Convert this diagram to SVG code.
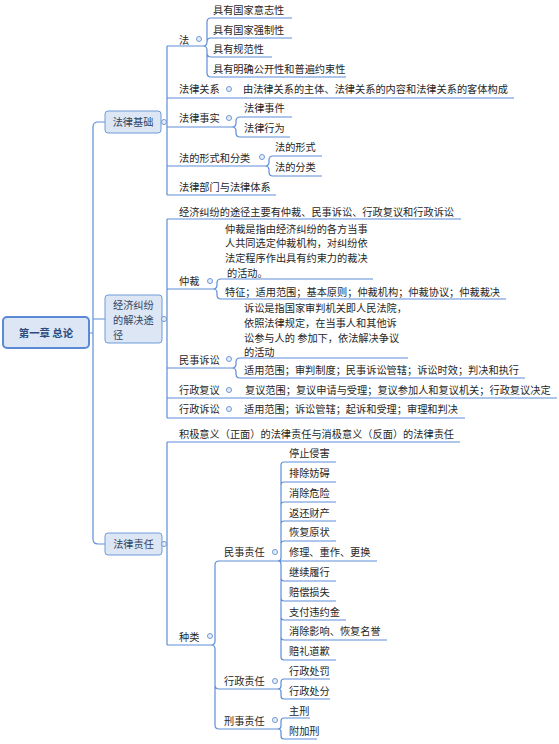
<svg xmlns="http://www.w3.org/2000/svg" width="559" height="744" viewBox="0 0 559 744">
<style>
.t{font-family:"Noto Sans CJK SC","Noto Sans",sans-serif;font-size:10.2px;fill:#262626}
.bt{font-family:"Noto Sans CJK SC","Noto Sans",sans-serif;font-size:10.2px;fill:#33445f}
.rt{font-family:"Noto Sans CJK SC","Noto Sans",sans-serif;font-size:10.4px;font-weight:bold;fill:#2b4c7e}
.ln{fill:none;stroke:#5e8ed7;stroke-width:1.2}
.dot{fill:#e8eef9;stroke:#6d98d6;stroke-width:1}
.box{fill:#dce6f4;stroke:#6f9bd8;stroke-width:1}
.root{fill:#dce6f4;stroke:#5a8ad6;stroke-width:2}
</style>
<rect width="559" height="744" fill="#ffffff"/>
<g id="connectors">
<path class="ln" d="M89 333 L93 333 M105 122 L98 122 Q93 122 93 127 L93 539 Q93 544 98 544 L105 544 M93 319 L105 319"/>
<path class="ln" d="M162 122 L167 122 M167 46 L167 195 M167 46 L203 46 M167 98 L514 98 M167 127 L232 127 M167 166 L265 166 M167 195 L276 195"/>
<path class="ln" d="M162 319 L167 319 M167 219 L167 418 M167 219 L461 219 M167 289 L213 289 M167 368 L232 368 M167 398 L557 398 M167 418 L465 418"/>
<path class="ln" d="M162 544 L167 544 M167 442 L167 645 M167 442 L460 442 M167 645 L211 645"/>
<path class="ln" d="M203 46 Q207 46 207 42 L207 22 Q207 18 211 18 L292 18 M203 46 Q207 46 207 42 Q207 38 211 38 L292 38 M203 46 Q207 46 207 50 L207 53 Q207 57 211 57 L272 57 M203 46 Q207 46 207 50 L207 73 Q207 77 211 77 L346 77"/>
<path class="ln" d="M232 127 Q236 127 236 123 L236 121 Q236 117 240 117 L292 117 M232 127 Q236 127 236 131 L236 133 Q236 137 240 137 L290 137"/>
<path class="ln" d="M265 166 Q269 166 269 162 L269 160 Q269 156 273 156 L322 156 M265 166 Q269 166 269 170 L269 172 Q269 176 273 176 L322 176"/>
<path class="ln" d="M213 289 Q217 289 217 285 L217 283 Q217 279 221 279 L373 279 M213 289 Q217 289 217 293 L217 295 Q217 299 221 299 L506 299"/>
<path class="ln" d="M232 368 Q236 368 236 364 L236 362 Q236 358 240 358 L408 358 M232 368 Q236 368 236 372 L236 374 Q236 378 240 378 L525 378"/>
<path class="ln" d="M211 645 Q215 645 215 641 L215 565 Q215 561 219 561 L278 561 M211 645 Q215 645 215 649 L215 685 Q215 689 219 689 L278 689 M211 645 Q215 645 215 649 L215 725 Q215 729 219 729 L278 729"/>
<path class="ln" d="M278 561 Q281 561 281 558 L281 465 Q281 462 284 462 L336 462 M278 561 Q281 561 281 558 L281 485 Q281 482 284 482 L336 482 M278 561 Q281 561 281 558 L281 505 Q281 502 284 502 L336 502 M278 561 Q281 561 281 558 L281 524 Q281 521 284 521 L336 521 M278 561 Q281 561 281 558 L281 544 Q281 541 284 541 L336 541 M278 561 L377 561 M278 561 Q281 561 281 564 L281 578 Q281 581 284 581 L336 581 M278 561 Q281 561 281 564 L281 598 Q281 601 284 601 L336 601 M278 561 Q281 561 281 564 L281 617 Q281 620 284 620 L346 620 M278 561 Q281 561 281 564 L281 637 Q281 640 284 640 L387 640 M278 561 Q281 561 281 564 L281 657 Q281 660 284 660 L336 660"/>
<path class="ln" d="M278 689 Q281 689 281 686 L281 682 Q281 679 284 679 L330 679 M278 689 Q281 689 281 692 L281 696 Q281 699 284 699 L330 699"/>
<path class="ln" d="M278 729 Q281 729 281 726 L281 721 Q281 718 284 718 L310 718 M278 729 Q281 729 281 732 L281 736 Q281 739 284 739 L317 739"/>
</g>
<g id="root"><rect class="root" x="3" y="317" width="86" height="31" rx="4"/><text class="rt" x="46" y="337" text-anchor="middle">第一章 总论</text></g>
<g id="n-falvjichu"><rect class="box" x="105" y="111" width="56" height="22" rx="3"/><text class="bt" x="133" y="126" text-anchor="middle">法律基础</text><circle class="dot" cx="164" cy="122" r="2.5"/></g>
<g id="n-jingji"><rect class="box" x="105" y="295" width="57" height="48" rx="3"/><text class="bt" x="113" y="309"><tspan x="113">经济纠纷</tspan><tspan x="113" y="323.8">的解决途</tspan><tspan x="113" y="338.6">径</tspan></text><circle class="dot" cx="164" cy="319" r="2.5"/></g>
<g id="n-zeren"><rect class="box" x="105" y="533" width="57" height="22" rx="3"/><text class="bt" x="133.5" y="548" text-anchor="middle">法律责任</text><circle class="dot" cx="164" cy="544" r="2.5"/></g>
<g id="n-fa"><text class="t" x="179" y="44">法</text><circle class="dot" cx="199" cy="39" r="2.5"/></g>
<g id="n-fa1"><text class="t" x="213" y="14">具有国家意志性</text></g>
<g id="n-fa2"><text class="t" x="213" y="34">具有国家强制性</text></g>
<g id="n-fa3"><text class="t" x="213" y="53">具有规范性</text></g>
<g id="n-fa4"><text class="t" x="213" y="73">具有明确公开性和普遍约束性</text></g>
<g id="n-guanxi"><text class="t" x="179" y="93">法律关系</text><circle class="dot" cx="229" cy="89" r="2.5"/></g>
<g id="n-guanxi1"><text class="t" x="243" y="93">由法律关系的主体、法律关系的内容和法律关系的客体构成</text></g>
<g id="n-shishi"><text class="t" x="179" y="122">法律事实</text><circle class="dot" cx="229" cy="118" r="2.5"/></g>
<g id="n-shishi1"><text class="t" x="244" y="112">法律事件</text></g>
<g id="n-shishi2"><text class="t" x="244" y="132">法律行为</text></g>
<g id="n-xingshi"><text class="t" x="179" y="162">法的形式和分类</text><circle class="dot" cx="262" cy="157" r="2.5"/></g>
<g id="n-xingshi1"><text class="t" x="275" y="151">法的形式</text></g>
<g id="n-xingshi2"><text class="t" x="275" y="171">法的分类</text></g>
<g id="n-bumen"><text class="t" x="179" y="191">法律部门与法律体系</text></g>
<g id="n-tujing"><text class="t" x="179" y="216">经济纠纷的途径主要有仲裁、民事诉讼、行政复议和行政诉讼</text></g>
<g id="n-zhongcai"><text class="t" x="179" y="285">仲裁</text><circle class="dot" cx="210" cy="281" r="2.5"/></g>
<g id="n-zhongcai1"><text class="t" x="225" y="232.5"><tspan x="225">仲裁是指由经济纠纷的各方当事</tspan><tspan x="225" y="247.3">人共同选定仲裁机构，对纠纷依</tspan><tspan x="225" y="262.1">法定程序作出具有约束力的裁决</tspan><tspan x="227" y="276.9">的活动。</tspan></text></g>
<g id="n-zhongcai2"><text class="t" x="225" y="296">特征；适用范围；基本原则；仲裁机构；仲裁协议；仲裁裁决</text></g>
<g id="n-minshisusong"><text class="t" x="179" y="364">民事诉讼</text><circle class="dot" cx="229" cy="359" r="2.5"/></g>
<g id="n-minshisusong1"><text class="t" x="244" y="312"><tspan x="244">诉讼是指国家审判机关即人民法院，</tspan><tspan x="244" y="326.8">依照法律规定，在当事人和其他诉</tspan><tspan x="244" y="341.6">讼参与人的 参加下，依法解决争议</tspan><tspan x="244" y="356.4">的活动</tspan></text></g>
<g id="n-minshisusong2"><text class="t" x="244" y="374">适用范围；审判制度；民事诉讼管辖；诉讼时效；判决和执行</text></g>
<g id="n-fuyi"><text class="t" x="179" y="394">行政复议</text><circle class="dot" cx="229" cy="390" r="2.5"/></g>
<g id="n-fuyi1"><text class="t" x="245" y="394">复议范围；复议申请与受理；复议参加人和复议机关；行政复议决定</text></g>
<g id="n-xingzhengsusong"><text class="t" x="179" y="413">行政诉讼</text><circle class="dot" cx="229" cy="409" r="2.5"/></g>
<g id="n-xingzhengsusong1"><text class="t" x="244" y="413">适用范围；诉讼管辖；起诉和受理；审理和判决</text></g>
<g id="n-jiji"><text class="t" x="179" y="438">积极意义（正面）的法律责任与消极意义（反面）的法律责任</text></g>
<g id="n-zhonglei"><text class="t" x="179" y="641">种类</text><circle class="dot" cx="210" cy="636" r="2.5"/></g>
<g id="n-minshi"><text class="t" x="224" y="556">民事责任</text><circle class="dot" cx="275" cy="552" r="2.5"/></g>
<g id="n-m1"><text class="t" x="289" y="457">停止侵害</text></g>
<g id="n-m2"><text class="t" x="289" y="477">排除妨碍</text></g>
<g id="n-m3"><text class="t" x="289" y="497">消除危险</text></g>
<g id="n-m4"><text class="t" x="289" y="517">返还财产</text></g>
<g id="n-m5"><text class="t" x="289" y="536">恢复原状</text></g>
<g id="n-m6"><text class="t" x="289" y="556">修理、重作、更换</text></g>
<g id="n-m7"><text class="t" x="289" y="576">继续履行</text></g>
<g id="n-m8"><text class="t" x="289" y="596">赔偿损失</text></g>
<g id="n-m9"><text class="t" x="289" y="616">支付违约金</text></g>
<g id="n-m10"><text class="t" x="289" y="635">消除影响、恢复名誉</text></g>
<g id="n-m11"><text class="t" x="289" y="655">赔礼道歉</text></g>
<g id="n-xingzheng"><text class="t" x="224" y="685">行政责任</text><circle class="dot" cx="275" cy="681" r="2.5"/></g>
<g id="n-x1"><text class="t" x="289" y="675">行政处罚</text></g>
<g id="n-x2"><text class="t" x="289" y="695">行政处分</text></g>
<g id="n-xingshi-zr"><text class="t" x="224" y="725">刑事责任</text><circle class="dot" cx="275" cy="720" r="2.5"/></g>
<g id="n-k1"><text class="t" x="289" y="715">主刑</text></g>
<g id="n-k2"><text class="t" x="289" y="735">附加刑</text></g>
</svg>
